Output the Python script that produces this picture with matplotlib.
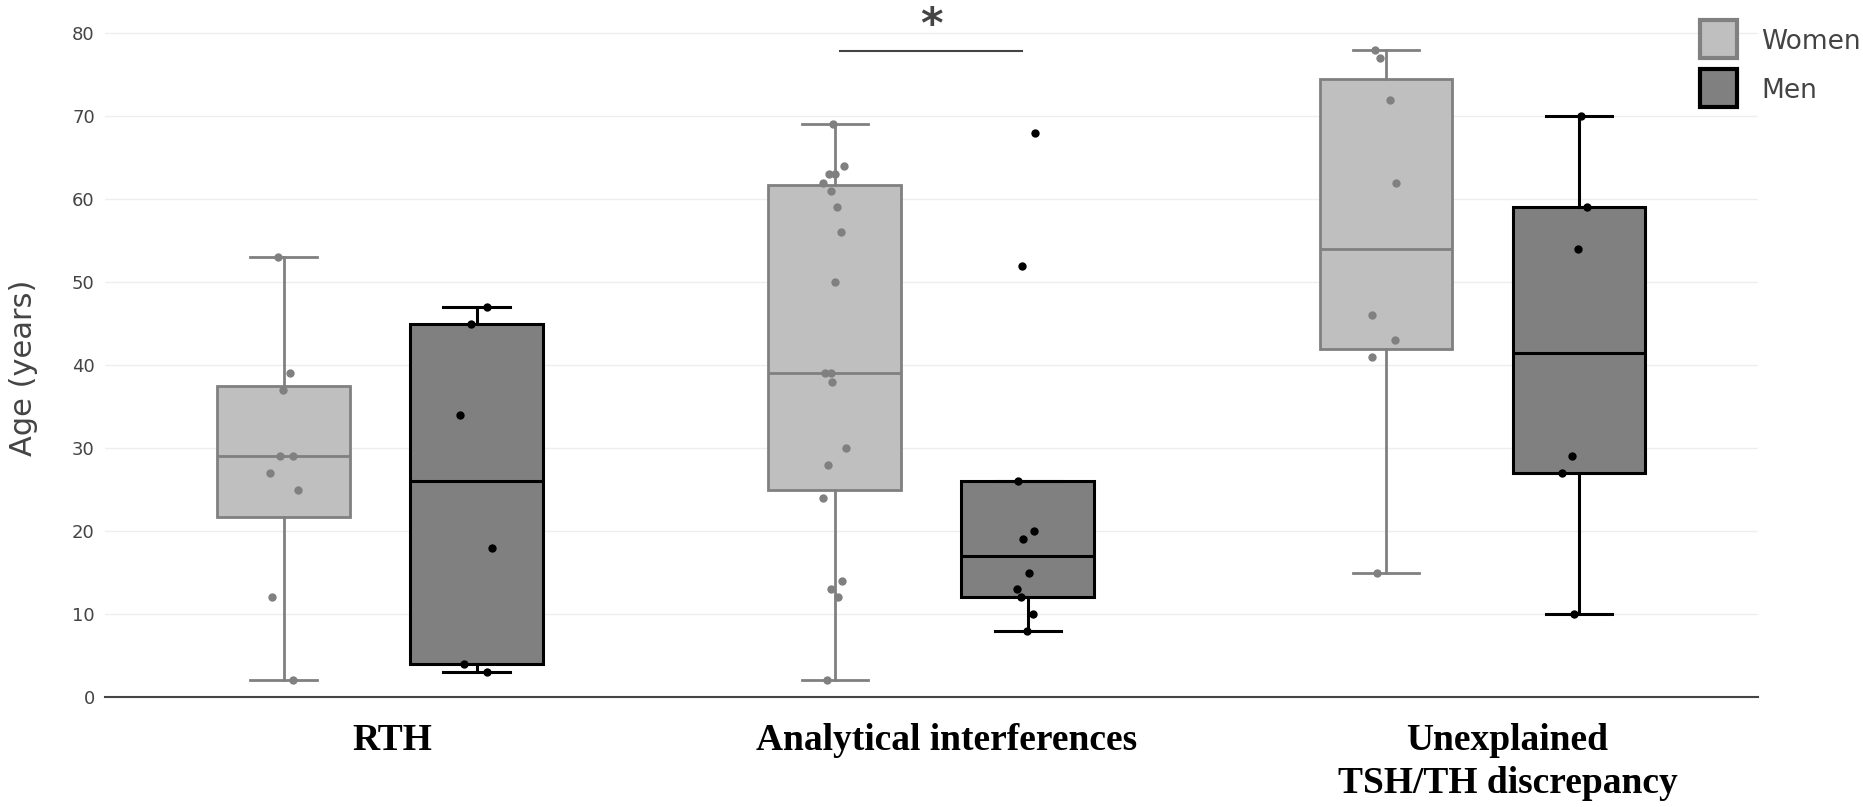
"""Age by sex for three causes of TSH/TH discordance, box plot with all points."""

import matplotlib

matplotlib.use("Agg")
import matplotlib.pyplot as plt
import matplotlib.transforms as mtransforms
import numpy as np
from matplotlib.patches import Rectangle

CATEGORIES = ["RTH", "Analytical interferences", "Unexplained\nTSH/TH discrepancy"]

# ages, one list per box
WOMEN = [
    [53, 39, 37, 29, 29, 27, 25, 12, 2],
    [69, 64, 63, 63, 62, 61, 59, 56, 50, 39, 39, 38, 30, 28, 24, 14, 13, 12, 2],
    [78, 77, 72, 62, 46, 43, 41, 15],
]
MEN = [
    [47, 45, 34, 18, 4, 3],
    [68, 52, 26, 20, 19, 15, 13, 12, 10, 8],
    [70, 59, 54, 29, 27, 10],
]

# horizontal jitter of each point, as a fraction of the box width
WOMEN_JITTER = [
    [-0.044, 0.047, -0.002, -0.029, 0.069, -0.106, 0.111, -0.089, 0.070],
    [-0.012, 0.071, -0.042, 0.0, -0.086, -0.029, 0.015, 0.046, 0.0, -0.073,
     -0.032, -0.020, 0.081, -0.049, -0.090, 0.056, -0.027, 0.022, -0.061],
    [-0.083, -0.044, 0.027, 0.073, -0.105, 0.068, -0.107, -0.071],
]
MEN_JITTER = [
    [0.076, -0.042, -0.128, 0.113, -0.094, 0.075],
    [0.054, -0.045, -0.072, 0.045, -0.036, 0.009, -0.081, -0.054, 0.036, -0.009],
    [0.012, 0.063, -0.005, -0.051, -0.129, -0.035],
]

SIGNIF_Y = 77.8

STYLE = {
    "Women": {"line": "#808080", "fill": "#bfbfbf", "pts": "#808080", "lw": 2.0},
    "Men": {"line": "#000000", "fill": "#808080", "pts": "#000000", "lw": 2.2},
}

BOX_W = 0.241
OFFSET = 0.175
FIG_W, FIG_H = 1863, 807


def box_stats(values):
    v = np.asarray(values, dtype=float)
    q1, med, q3 = np.percentile(v, [25, 50, 75], method="hazen")
    iqr = q3 - q1
    lo = v[v >= q1 - 1.5 * iqr].min()
    hi = v[v <= q3 + 1.5 * iqr].max()
    return {"med": med, "q1": q1, "q3": q3, "whislo": lo, "whishi": hi, "fliers": []}


def draw_group(ax, groups, jitters, shift, name):
    st = STYLE[name]
    pos = [i + shift for i in range(len(groups))]
    stats = [box_stats(g) for g in groups]
    line = {"color": st["line"], "linewidth": st["lw"]}
    ax.bxp(
        stats,
        positions=pos,
        widths=BOX_W,
        capwidths=BOX_W * 0.5,
        patch_artist=True,
        showfliers=False,
        boxprops={"facecolor": st["fill"], "edgecolor": st["line"], "linewidth": st["lw"]},
        medianprops=line,
        whiskerprops=line,
        capprops=line,
        zorder=2,
    )
    for p, vals, jit in zip(pos, groups, jitters):
        xs = p + np.asarray(jit) * BOX_W
        ax.plot(xs, vals, "o", color=st["pts"], markersize=6, markeredgewidth=0, zorder=3)


fig = plt.figure(figsize=(FIG_W / 100, FIG_H / 100), dpi=100)
ax = fig.add_axes([0.0561, 0.1363, 0.8876, 0.8637])

draw_group(ax, WOMEN, WOMEN_JITTER, -OFFSET, "Women")
draw_group(ax, MEN, MEN_JITTER, OFFSET, "Men")

ax.set_xlim(-0.5, 2.5)
ax.set_ylim(0, 84)
ax.set_yticks(range(0, 81, 10))
ax.set_xticks(range(len(CATEGORIES)))
ax.set_xticklabels(CATEGORIES, fontfamily="Liberation Serif", fontweight="bold",
                   fontsize=27, color="black", linespacing=1.3)
ax.tick_params(axis="x", length=0, pad=19)
ax.tick_params(axis="y", length=0, pad=7, labelsize=13, labelcolor="#444444")

# the category labels sit a little right of the group centres in the original
for lab, dx in zip(ax.get_xticklabels(), (9, 11, 18)):
    lab.set_transform(lab.get_transform()
                      + mtransforms.ScaledTranslation(dx / 72, 0, fig.dpi_scale_trans))

for side in ("top", "right", "left"):
    ax.spines[side].set_visible(False)
ax.spines["bottom"].set_color("#444444")
ax.spines["bottom"].set_linewidth(1.5)
ax.grid(axis="y", color="#eeeeee", linewidth=1)
ax.set_axisbelow(True)

ax.set_ylabel("Age (years)", fontsize=22, color="#444444")
ax.yaxis.set_label_coords(-0.0404, 0.473)

# significance bracket between women and men, analytical interferences
ax.plot([1 - OFFSET + 0.01, 1 + OFFSET - 0.01], [SIGNIF_Y, SIGNIF_Y], color="#444444",
        linewidth=1.5, clip_on=False)
ax.text(1.0, 80.9, "*", ha="center", va="center", fontsize=31, fontweight="bold",
        color="#444444", clip_on=False)

# legend drawn by hand: plotly-style squares with the label to the right
for name, top in (("Women", 20), ("Men", 69)):
    st = STYLE[name]
    fig.patches.append(Rectangle(
        (1700 / FIG_W, 1 - (top + 38) / FIG_H), 37 / FIG_W, 38 / FIG_H,
        transform=fig.transFigure, facecolor=st["fill"], edgecolor=st["line"], linewidth=3,
    ))
    fig.text(1761 / FIG_W, 1 - (top + 19) / FIG_H, name, fontsize=19, color="#444444",
             ha="left", va="center_baseline")

fig.savefig("out.png", dpi=100)
